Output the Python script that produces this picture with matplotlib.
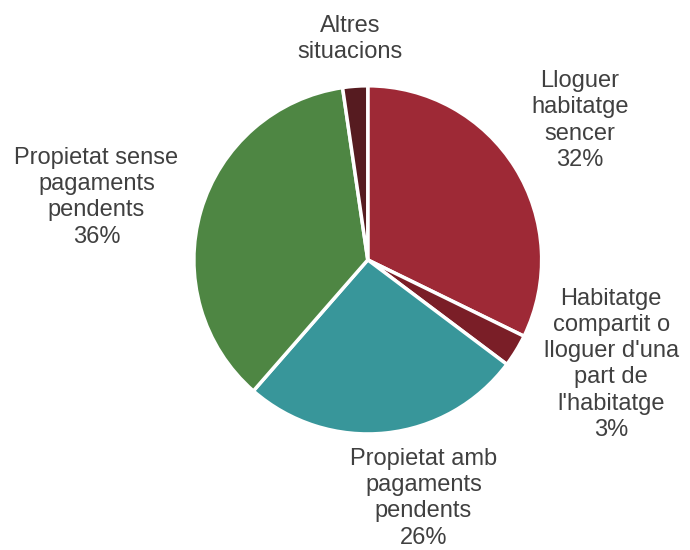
import matplotlib.pyplot as plt

# Règim de tinença de l'habitatge (%)
labels = ["Lloguer\nhabitatge\nsencer",
          "Habitatge\ncompartit o\nlloguer d'una\npart de\nl'habitatge",
          "Propietat amb\npagaments\npendents",
          "Propietat sense\npagaments\npendents",
          "Altres\nsituacions"]
values = [32, 3, 26, 36, 2.3]
show_pct = [True, True, True, True, False]

colors = ["#9E2936", "#7A1E27", "#38969A", "#4E8643", "#561B20"]
label_pos = [(1.22, 0.80), (1.40, -0.60), (0.32, -1.37), (-1.56, 0.36), (-0.10, 1.27)]

plt.rcParams['font.family'] = ['Liberation Sans', 'DejaVu Sans']

fig = plt.figure(figsize=(6.9, 5.5), dpi=100)
ax = fig.add_axes([0.281, 0.211, 0.504, 0.633])

ax.pie(values, colors=colors, startangle=90, counterclock=False,
       wedgeprops=dict(edgecolor='white', linewidth=2.5))
ax.set_xlim(-1, 1)
ax.set_ylim(-1, 1)
ax.set_aspect('auto')
ax.axis('off')

for lab, v, shown, (x, y) in zip(labels, values, show_pct, label_pos):
    txt = lab + (f"\n{v:.0f}%" if shown else "")
    ax.text(x, y, txt, ha='center', va='center', fontsize=17,
            color='#404040', linespacing=1.25, clip_on=False)

fig.savefig("out.png", dpi=100)
